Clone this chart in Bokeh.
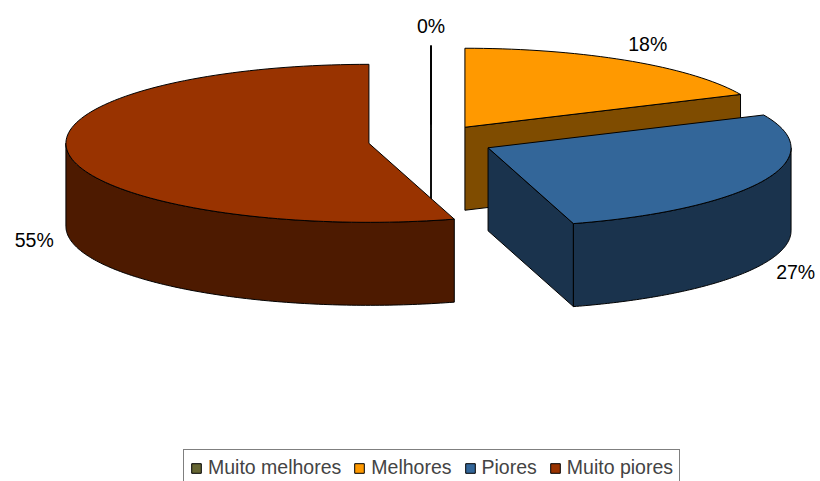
import numpy as np
from bokeh.plotting import figure
from bokeh.models import Range1d, Legend, LegendItem, ColumnDataSource
from bokeh.embed import file_html
from bokeh.resources import INLINE
from bokeh.core.properties import value

# ---- data ----
categories = ["Muito melhores", "Melhores", "Piores", "Muito piores"]
counts = [0, 2, 3, 6]
labels = ["0%", "18%", "27%", "55%"]
top_colors = ["#666633", "#FF9900", "#336699", "#993300"]
side_colors = ["#333319", "#7F4C00", "#1A334D", "#4D1A00"]

# ---- geometry / style ----
W, H = 820, 481
OX, OY = 430.5, 140.5      # pie centre (screen px)
RX, RY = 303.0, 79.0       # ellipse radii
DEPTH = 83.0               # thickness
EXPLODE = 0.207            # explosion as a fraction of radius
LAB_RX, LAB_RY = 1.05, 1.15
LAB_HW, LAB_HH = 20.0, 8.0
FONT = "Liberation Sans"
FS = "19.5px"

p = figure(width=W, height=H, output_backend="svg", toolbar_location=None,
           x_range=Range1d(0, W), y_range=Range1d(H, 0),
           x_axis_location=None, y_axis_location=None, min_border=0)
p.grid.visible = False
p.outline_line_color = None
p.background_fill_color = "white"
p.border_fill_color = "white"

vals = np.array(counts, dtype=float)
frac = vals / vals.sum()
cum = np.concatenate([[0.0], np.cumsum(frac)]) * 2 * np.pi


def rim(th, cx, cy, dz=0.0):
    th = np.atleast_1d(th)
    return list(cx + RX * np.sin(th)), list(cy - RY * np.cos(th) + dz)


slices = []
for i in range(len(categories)):
    a, b = cum[i], cum[i + 1]
    mid = 0.5 * (a + b)
    cx = OX + RX * EXPLODE * np.sin(mid)
    cy = OY - RY * EXPLODE * np.cos(mid)
    slices.append((i, a, b, mid, cx, cy))

# painter's order: farthest (largest v) first
order = sorted(slices, key=lambda s: -np.cos(s[3]))

renderers = {}
top_index = {}
for (i, a, b, mid, cx, cy) in order:
    xs, ys, fills = [], [], []
    zero = (b - a) < 1e-9

    def cut(t):
        rx, ry = rim(t, cx, cy)
        return [cx, rx[0], rx[0], cx], [cy, ry[0], ry[0] + DEPTH, cy + DEPTH]

    # cut face at start angle a (normal v = sin a)
    if zero or np.sin(a) < -1e-9:
        fx, fy = cut(a)
        xs.append(fx); ys.append(fy); fills.append(side_colors[i])
    # cut face at end angle b (normal v = -sin b)
    if zero or -np.sin(b) < -1e-9:
        fx, fy = cut(b)
        xs.append(fx); ys.append(fy); fills.append(side_colors[i])
    # outer wall (visible between 90 and 270 deg)
    lo, hi = max(a, np.pi / 2), min(b, 3 * np.pi / 2)
    if hi > lo:
        th = np.linspace(lo, hi, 120)
        tx, ty = rim(th, cx, cy)
        bx, by = rim(th[::-1], cx, cy, DEPTH)
        xs.append(tx + bx); ys.append(ty + by); fills.append(side_colors[i])
    # top face
    th = np.linspace(a, b, max(2, int(200 * (b - a) / (2 * np.pi)) + 2))
    tx, ty = rim(th, cx, cy)
    xs.append([cx] + tx); ys.append([cy] + ty); fills.append(top_colors[i])
    top_index[i] = len(xs) - 1

    src = ColumnDataSource(dict(xs=xs, ys=ys, fill=fills))
    r = p.patches("xs", "ys", source=src, fill_color="fill",
                  line_color="black", line_width=1, line_join="round")
    renderers[i] = r

# data labels
lx, ly = [], []
for (i, a, b, mid, cx, cy) in slices:
    s, c = np.sin(mid), np.cos(mid)
    x = cx + LAB_RX * RX * s + LAB_HW * s
    y = cy - LAB_RY * RY * c - LAB_HH * c + (DEPTH if c < 0 else 0.0)
    lx.append(x); ly.append(y)
p.text(x=lx, y=ly, text=labels, text_align="center", text_baseline="middle",
       text_font=value(FONT), text_font_size=FS, text_color="black")

items = [LegendItem(label=categories[i], renderers=[renderers[i]], index=top_index[i])
         for i in range(len(categories))]
legend = Legend(items=items, orientation="horizontal", location=(183, -5),
                label_text_font=FONT, label_text_font_size=FS,
                glyph_width=12, glyph_height=12, label_standoff=6, spacing=12,
                padding=6, margin=0, border_line_color="black", border_line_width=1,
                background_fill_color="white", background_fill_alpha=1.0,
                label_height=20)
p.add_layout(legend)

open("out.html", "w").write(file_html(p, INLINE))
